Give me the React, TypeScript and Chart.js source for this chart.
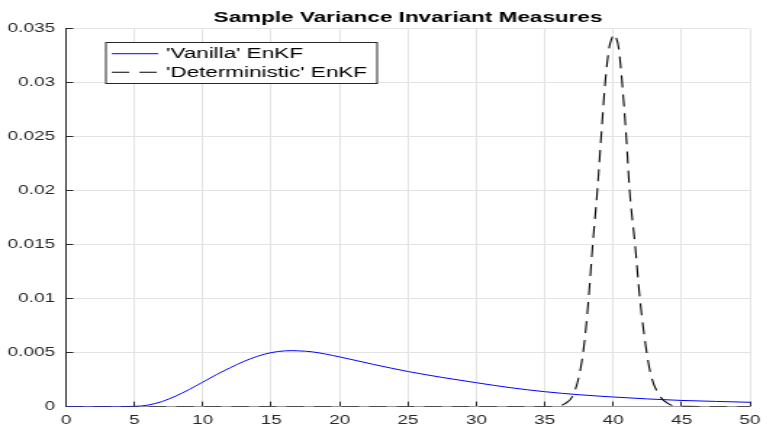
import { useEffect, useRef } from "react";
import { Chart, registerables } from "chart.js";

Chart.register(...registerables);

// ---- data ----
const TITLE = "Sample Variance Invariant Measures";
const SERIES_LABELS = ["'Vanilla' EnKF", "'Deterministic' EnKF"];
const X_RANGE = [0, 50];
const X_STEP = 5;
const Y_RANGE = [0, 0.035];
const Y_STEP = 0.005;

const vanillaX = [0, 3, 5, 6, 7, 7.5, 8, 9, 10, 11, 12, 13, 14, 15, 16, 16.5, 17, 18, 20, 22.5, 25, 27.5, 30, 32.5, 35, 37.5, 40, 42.5, 45, 47.5, 50];
const vanillaY = [0, 0, 0.00002, 0.00014, 0.00046, 0.0007, 0.00096, 0.00158, 0.00227, 0.00296, 0.0036, 0.00418, 0.00466, 0.005, 0.00516, 0.00518, 0.00516, 0.00507, 0.0046, 0.0039, 0.00325, 0.0027, 0.00221, 0.00175, 0.00138, 0.0011, 0.00089, 0.00071, 0.00057, 0.00048, 0.0004];

const detX = [0, 35, 36, 36.5, 37, 37.5, 37.8, 38, 38.2, 38.5, 38.85, 39.15, 39.4, 39.7, 39.9, 40.05, 40.2, 40.4, 40.65, 40.95, 41.2, 41.6, 41.95, 42.45, 42.8, 43.4, 44, 44.7, 50];
const detY = [0, 0, 0.00005, 0.0003, 0.0009, 0.0028, 0.005, 0.0072, 0.01, 0.015, 0.0202, 0.0255, 0.0298, 0.0332, 0.0341, 0.0345, 0.0342, 0.0332, 0.03, 0.025, 0.02, 0.015, 0.01, 0.005, 0.0027, 0.001, 0.0003, 0.00002, 0];

// ---- layout (internal canvas is drawn narrower and stretched horizontally) ----
const OUT_W = 776;
const OUT_H = 427;
const INNER_W = 535;

const legendPlugin = {
  id: "boxLegend",
  afterDatasetsDraw(chart: any) {
    const ctx = chart.ctx as CanvasRenderingContext2D;
    const ca = chart.chartArea;
    const x0 = ca.left + 27;
    const y0 = 42;
    const w = 187;
    const h = 41;
    ctx.save();
    ctx.fillStyle = "#ffffff";
    ctx.fillRect(x0, y0, w, h);
    ctx.strokeStyle = "#262626";
    ctx.lineWidth = 1;
    ctx.strokeRect(x0 + 0.5, y0 + 0.5, w, h);
    chart.data.datasets.forEach((ds: any, i: number) => {
      const y = y0 + 11.7 + i * 18.6;
      ctx.beginPath();
      ctx.strokeStyle = ds.borderColor;
      ctx.lineWidth = ds.borderWidth;
      ctx.setLineDash(ds.borderDash || []);
      ctx.moveTo(x0 + 4.6, y);
      ctx.lineTo(x0 + 36.6, y);
      ctx.stroke();
      ctx.setLineDash([]);
      ctx.fillStyle = "#000000";
      ctx.font = '15.5px "Liberation Sans", Arial, sans-serif';
      ctx.textBaseline = "middle";
      ctx.textAlign = "left";
      ctx.fillText(ds.label, x0 + 42, y);
    });
    ctx.restore();
  },
};

export default function App() {
  const ref = useRef<HTMLCanvasElement>(null);

  useEffect(() => {
    const canvas = ref.current;
    if (!canvas) return;
    Chart.defaults.font.family = '"Liberation Sans", Arial, sans-serif';
    const chart = new Chart(canvas, {
      type: "line",
      data: {
        datasets: [
          {
            label: SERIES_LABELS[0],
            data: vanillaX.map((x, i) => ({ x, y: vanillaY[i] })),
            borderColor: "#0000ff",
            borderWidth: 1,
            pointRadius: 0,
            fill: false,
            cubicInterpolationMode: "monotone",
          },
          {
            label: SERIES_LABELS[1],
            data: detX.map((x, i) => ({ x, y: detY[i] })),
            borderColor: "#000000",
            borderWidth: 1.1,
            borderDash: [12, 7],
            pointRadius: 0,
            fill: false,
            cubicInterpolationMode: "monotone",
          },
        ],
      },
      options: {
        responsive: false,
        animation: false,
        devicePixelRatio: 1,
        layout: { padding: { left: 0, right: 8.3, top: 0, bottom: 0 } },
        plugins: {
          legend: { display: false },
          tooltip: { enabled: false },
          title: {
            display: true,
            text: TITLE,
            fullSize: false,
            color: "#000000",
            font: { size: 15.5, weight: "bold" },
            padding: { top: 8, bottom: 2 },
          },
        },
        scales: {
          x: {
            type: "linear",
            min: X_RANGE[0],
            max: X_RANGE[1],
            ticks: {
              stepSize: X_STEP,
              color: "#262626",
              font: { size: 13 },
              padding: 10.7,
              maxRotation: 0,
              autoSkip: false,
            },
            grid: {
              color: "#e3e3e3",
              tickColor: "#262626",
              tickLength: -5,
            },
            border: { color: "#999999", width: 1 },
            afterFit: (s: any) => {
              s.height = 19;
            },
          },
          y: {
            type: "linear",
            min: Y_RANGE[0],
            max: Y_RANGE[1],
            ticks: {
              stepSize: Y_STEP,
              color: "#262626",
              font: { size: 13 },
              padding: 12.6,
              callback: (v: any) => String(Number(Number(v).toFixed(4))),
            },
            grid: {
              color: "#e3e3e3",
              tickColor: "#262626",
              tickLength: -5,
            },
            border: { color: "#262626", width: 1 },
            afterFit: (s: any) => {
              s.width = 45.5;
            },
          },
        },
      },
      plugins: [legendPlugin],
    } as any);
    return () => chart.destroy();
  }, []);

  return (
    <div style={{ position: "absolute", left: 0, top: 0, width: OUT_W, height: OUT_H, background: "#ffffff" }}>
      <canvas
        ref={ref}
        width={INNER_W}
        height={OUT_H}
        style={{ width: OUT_W + "px", height: OUT_H + "px", display: "block" }}
      />
    </div>
  );
}
